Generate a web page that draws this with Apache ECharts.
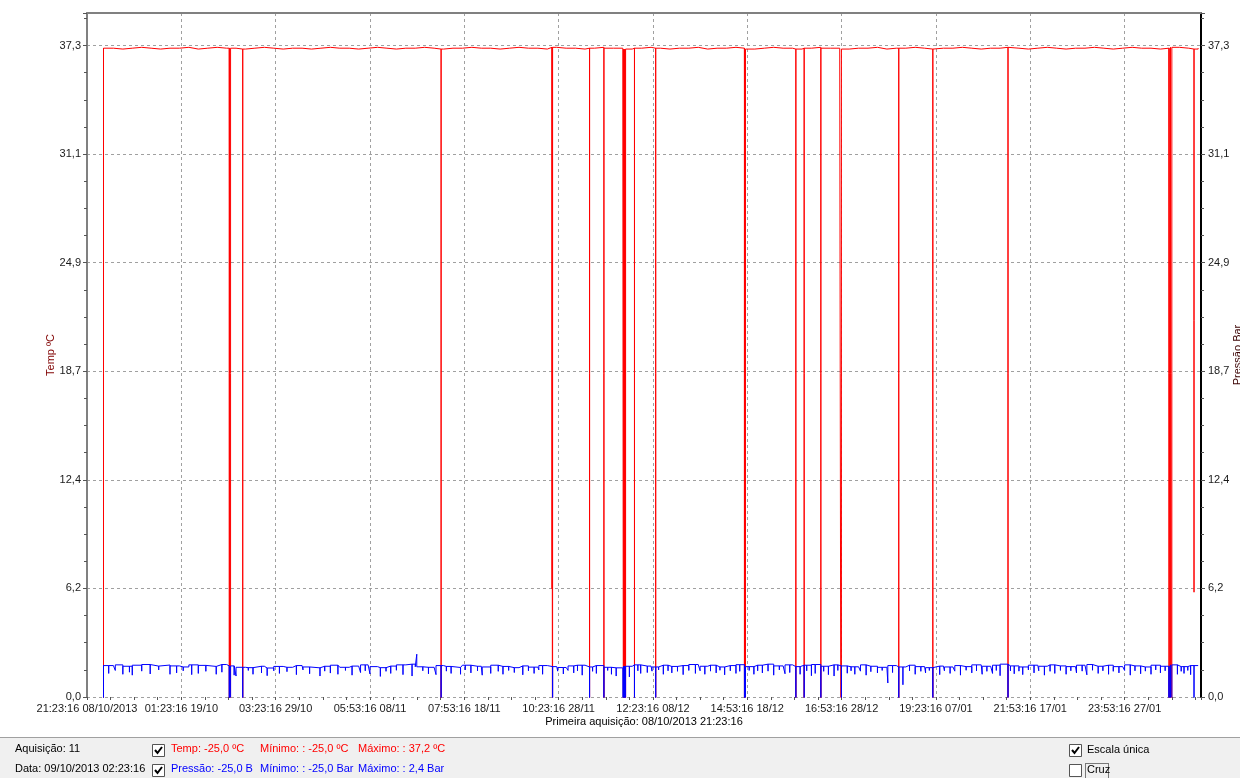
<!DOCTYPE html>
<html><head><meta charset="utf-8">
<script src="https://cdn.jsdelivr.net/npm/echarts@6/dist/echarts.min.js"></script>
<style>html,body{margin:0;padding:0;background:#fff}#c{width:1240px;height:778px}</style>
</head><body><div id="c"></div>
<script>
// ---- data ----
const xTickLabels = ["21:23:16 08/10/2013","01:23:16 19/10","03:23:16 29/10","05:53:16 08/11","07:53:16 18/11","10:23:16 28/11","12:23:16 08/12","14:53:16 18/12","16:53:16 28/12","19:23:16 07/01","21:53:16 17/01","23:53:16 27/01"];
const yTickLabels = ['0,0','6,2','12,4','18,7','24,9','31,1','37,3'];
const sampleStart = 18;   // sample index of first level reading
const sampleStep = 10;    // sample index step between level readings

const tempLevel = [
37.15,37.1,37.15,37.2,37.15,37.1,37.15,37.15,37.2,37.1,
37.15,37.2,37.15,37.15,37.1,37.15,37.2,37.15,37.1,37.15,
37.15,37.1,37.15,37.2,37.15,37.15,37.1,37.15,37.2,37.15,
37.1,37.15,37.15,37.2,37.15,37.1,37.15,37.15,37.2,37.15,
37.15,37.1,37.15,37.2,37.15,37.15,37.1,37.2,37.15,37.15,
37.1,37.15,37.2,37.15,37.15,37.1,37.15,37.2,37.15,37.1,
37.15,37.15,37.2,37.1,37.15,37.15,37.2,37.15,37.1,37.15,
37.2,37.15,37.15,37.1,37.15,37.2,37.15,37.15,37.1,37.15,
37.15,37.2,37.1,37.15,37.15,37.2,37.15,37.1,37.15,37.15,
37.2,37.15,37.1,37.15,37.15,37.2,37.15,37.1,37.15,37.2,
37.15,37.1,37.15,37.15,37.2,37.15,37.1,37.15,37.2,37.15,
37.15,37.1,37.15,37.2,37.15,37.1,37.15];

const pressLevel = [
1.80,1.84,1.76,1.82,1.86,1.77,1.83,1.78,1.72,1.84,
1.81,1.75,1.86,1.78,1.70,1.68,1.76,1.66,1.75,1.70,
1.80,1.72,1.67,1.76,1.82,1.70,1.77,1.84,1.74,1.68,
1.77,1.84,1.88,1.73,1.70,1.80,1.75,1.69,1.82,1.76,
1.72,1.82,1.75,1.68,1.78,1.71,1.80,1.74,1.69,1.78,
1.82,1.72,1.80,1.70,1.67,1.76,1.84,1.77,1.72,1.82,
1.75,1.80,1.86,1.76,1.82,1.72,1.80,1.85,1.74,1.82,
1.88,1.78,1.84,1.74,1.82,1.86,1.76,1.84,1.78,1.73,
1.84,1.76,1.70,1.80,1.72,1.82,1.74,1.68,1.77,1.72,
1.80,1.74,1.84,1.76,1.82,1.88,1.78,1.72,1.82,1.76,
1.84,1.78,1.74,1.82,1.86,1.76,1.82,1.74,1.84,1.78,
1.72,1.82,1.76,1.84,1.74,1.80,1.77];

// momentary readings [sample index, value]
const tempEvents = [
[17.5,-25],[150.9,-25],[152.2,-25],[165.1,-25],[375.4,-25],[493.0,6.2],[493.6,-25],
[532.8,-25],[548.0,-25],[568.9,-25],[569.6,-25],[570.3,-25],[571.0,-25],[580.4,-25],
[602.9,-25],[697.0,-25],[698.1,-25],[751.5,-25],[760.3,-25],[778.0,-25],[799.8,-25],
[860.6,-25],[896.7,-25],[976.4,-25],[1147.1,-25],[1148.6,-25],[1150.1,-25],[1173.6,6.0]];

const pressEvents = [
[17.5,-25],[23,1.35],[38,1.30],[45,1.42],[48,1.25],[67,1.32],[88,1.30],[95,1.38],[111,1.28],[118,1.35],
[137,1.30],[143,1.42],[150.9,-25],[152.2,-25],[156,1.25],[158,1.2],[165.1,-25],[176,1.30],[185,1.38],[191,1.22],
[204,1.35],[212,1.45],[222,1.28],[236,1.33],[247,1.20],[258,1.37],[266,1.30],[281,1.25],[290,1.40],[300,1.32],
[311,1.18],[322,1.35],[335,1.28],[344.6,1.20],[349.6,2.45],[362,1.33],[370,1.28],[375.4,-25],[386,1.35],[396,1.30],
[407,1.38],[419,1.25],[428,1.35],[441,1.30],[453,1.40],[462,1.27],[474,1.35],[483,1.30],[493.6,-25],[505,1.32],
[516,1.38],[525,1.25],[532.8,-25],[540,1.35],[548.0,-25],[556,1.30],[561,1.20],[568.9,-25],[569.6,-25],[570.3,-25],
[571.0,-25],[575,1.15],[580.4,-25],[587,1.35],[594,1.40],[602.9,-25],[611,1.30],[620,1.38],[632,1.28],[645,1.35],
[655,1.30],[667,1.38],[676,1.27],[688,1.35],[697.0,-25],[698.1,-25],[707,1.30],[716,1.38],[728,1.25],[740,1.33],
[745,1.40],[751.5,-25],[756,1.30],[760.3,-25],[768,1.22],[772,1.35],[778.0,-25],[786,1.28],[792,1.20],[799.8,-25],
[806,1.36],[814,1.30],[826,1.25],[838,1.38],[849,0.80],[860.6,-25],[865,0.70],[878,1.30],[889,1.38],[896.7,-25],
[904,1.28],[915,1.35],[926,1.25],[938,1.38],[949,1.30],[960,1.35],[968,1.22],[976.4,-25],[983,1.33],[992,1.28],
[1004,1.38],[1015,1.25],[1026,1.35],[1038,1.30],[1049,1.38],[1060,1.27],[1072,1.35],[1083,1.30],[1094,1.38],[1106,1.25],
[1117,1.33],[1128,1.30],[1138,1.38],[1147.1,-25],[1148.6,-25],[1150.1,-25],[1156,1.30],[1163,1.35],[1170,1.28],[1173.6,-25]];

// shallower flickers of the pressure reading [sample index, value]
const pressMinorEvents = [
[30,1.52],[58,1.48],[76,1.55],[102,1.50],[126,1.47],[171,1.52],[198,1.50],[229,1.55],[252,1.48],[274,1.52],
[295,1.50],[317,1.47],[328,1.53],[356,1.50],[381,1.48],[401,1.55],[414,1.50],[436,1.47],[447,1.52],[468,1.50],
[479,1.55],[499,1.48],[510,1.52],[520,1.50],[536,1.47],[552,1.52],[584,1.50],[599,1.48],[606,1.55],[616,1.50],
[626,1.47],[638,1.52],[650,1.50],[661,1.48],[671,1.53],[682,1.50],[692,1.47],[702,1.52],[711,1.50],[722,1.48],
[734,1.55],[763,1.50],[781,1.47],[796,1.52],[810,1.50],[820,1.48],[831,1.45],[843,1.52],[854,1.40],[872,1.50],
[884,1.47],[893,1.52],[909,1.50],[920,1.48],[932,1.53],[943,1.50],[954,1.47],[964,1.52],[979,1.50],[988,1.48],
[998,1.55],[1009,1.50],[1021,1.47],[1032,1.52],[1043,1.50],[1055,1.48],[1066,1.53],[1077,1.50],[1088,1.47],[1100,1.52],
[1111,1.50],[1122,1.48],[1133,1.55],[1143,1.50],[1160,1.47],[1167,1.52]];

// ---- build ----
function buildSeries(level, events){
  const all = [];
  level.forEach((v,i)=>all.push({x: sampleStart + i*sampleStep, v: v, base: true}));
  events.forEach(e=>all.push({x: e[0], v: e[1], base: false}));
  all.sort((a,b)=> (a.x - b.x) || (a.base ? -1 : 1));
  const out = []; let cur = level[0];
  for (const e of all){
    if (e.base){ out.push([e.x, e.v]); cur = e.v; }
    else { out.push([e.x, cur], [e.x, e.v], [e.x, cur]); }
  }
  return out;
}
const FONT = 'Liberation Sans, Arial, sans-serif';
const yMax = 37.3 * 1.05;
const yInterval = 37.3 / 6;
function yFmt(v){
  const k = Math.round(v / yInterval);
  return (Math.abs(v / yInterval - k) < 0.01 && yTickLabels[k] !== undefined) ? yTickLabels[k] : '';
}
function xFmt(v){
  const k = Math.round(v / 100);
  return (Math.abs(v - k*100) < 0.01 && xTickLabels[k] !== undefined) ? xTickLabels[k] : '';
}
const labelColor = '#1a1a1a';
function yAxisCfg(pos, name, nameColor){
  return {
    type: 'value', position: pos, min: 0, max: yMax, interval: yInterval,
    name: name, nameLocation: 'middle', nameGap: 31, nameRotate: 90, nameMoveOverlap: false,
    nameTextStyle: {color: nameColor, fontFamily: FONT, fontSize: 11},
    axisLine: {show: true, onZero: false, lineStyle: {color: pos === 'left' ? '#808080' : '#000', width: 2}},
    axisTick: {show: true, length: 4, lineStyle: {color: '#555'}},
    minorTick: {show: true, splitNumber: 4, length: 3, lineStyle: {color: '#555'}},
    axisLabel: {formatter: yFmt, color: labelColor, fontFamily: FONT, fontSize: 11, margin: pos === 'left' ? 6 : 7},
    splitLine: {show: pos === 'left', lineStyle: {color: '#a0a0a0', type: [3,3], width: 1}},
    minorSplitLine: {show: false}
  };
}
const chart = echarts.init(document.getElementById('c'), null, {renderer: 'canvas'});
const panelTop = 737;
function txt(x, y, s, color){
  return {type: 'text', x: x, y: y, z: 10, style: {text: s, fill: color, font: '11px ' + FONT, verticalAlign: 'middle'}};
}
function checkbox(x, y, checked){
  const els = [{type: 'rect', z: 10, shape: {x: x + 0.5, y: y + 0.5, width: 12, height: 12}, style: {fill: '#fff', stroke: '#555', lineWidth: 1}}];
  if (checked) els.push({type: 'polyline', z: 11, shape: {points: [[x+3, y+6], [x+5.5, y+9], [x+10, y+3]]}, style: {stroke: '#000', lineWidth: 2, fill: null}});
  return els;
}
chart.setOption({
  animation: false,
  backgroundColor: '#fff',
  grid: {left: 87, right: 39, top: 13, bottom: 81, containLabel: false, outerBoundsMode: 'none'},
  xAxis: [{
    type: 'value', min: 0, max: 1181, interval: 100,
    name: 'Primeira aquisição: 08/10/2013 21:23:16', nameLocation: 'middle', nameGap: 19, nameMoveOverlap: false,
    nameTextStyle: {color: '#000', fontFamily: FONT, fontSize: 11},
    axisLine: {show: false, onZero: false},
    axisTick: {show: true, length: 3, lineStyle: {color: '#555'}},
    minorTick: {show: true, splitNumber: 4, length: 3, lineStyle: {color: '#555'}},
    axisLabel: {formatter: xFmt, color: labelColor, fontFamily: FONT, fontSize: 11, margin: 6, showMaxLabel: false},
    splitLine: {show: true, lineStyle: {color: '#a0a0a0', type: [3,3], width: 1}}
  }, {
    type: 'value', position: 'top', min: 0, max: 1181, interval: 100,
    axisLine: {show: true, onZero: false, lineStyle: {color: '#808080', width: 2}},
    axisTick: {show: false}, axisLabel: {show: false}, splitLine: {show: false}
  }],
  yAxis: [yAxisCfg('left', 'Temp ºC', '#800000'), yAxisCfg('right', 'Pressão Bar', '#3a0000')],
  series: [{
    name: 'Temp', type: 'line', xAxisIndex: 0, yAxisIndex: 0, step: 'end', showSymbol: false, symbol: 'none',
    data: buildSeries(tempLevel, tempEvents), lineStyle: {color: '#ff0000', width: 1}, itemStyle: {color: '#ff0000'}, z: 2
  }, {
    name: 'Pressão', type: 'line', xAxisIndex: 0, yAxisIndex: 1, step: 'end', showSymbol: false, symbol: 'none',
    data: buildSeries(pressLevel, pressEvents.concat(pressMinorEvents)), lineStyle: {color: '#0000ff', width: 1}, itemStyle: {color: '#0000ff'}, z: 3
  }],
  graphic: [].concat(
    [{type: 'rect', z: 9, shape: {x: 0, y: panelTop, width: 1240, height: 778 - panelTop}, style: {fill: '#f0f0f0'}},
     {type: 'line', z: 9, shape: {x1: 0, y1: panelTop + 0.5, x2: 1240, y2: panelTop + 0.5}, style: {stroke: '#a0a0a0', lineWidth: 1}},
     txt(15, 749, 'Aquisição: 11', '#000'),
     txt(15, 769, 'Data: 09/10/2013 02:23:16', '#000'),
     {type: 'rect', z: 10, shape: {x: 147, y: 760, width: 6, height: 18}, style: {fill: '#f0f0f0'}},
     txt(171, 749, 'Temp: -25,0 ºC', '#ff0000'),
     txt(260, 749, 'Mínimo: : -25,0 ºC', '#ff0000'),
     txt(358, 749, 'Máximo: : 37,2 ºC', '#ff0000'),
     txt(171, 769, 'Pressão: -25,0 B', '#0000ff'),
     txt(260, 769, 'Mínimo: : -25,0 Bar', '#0000ff'),
     txt(358, 769, 'Máximo: : 2,4 Bar', '#0000ff'),
     txt(1087, 750, 'Escala única', '#000'),
     txt(1087, 770, 'Cruz', '#000'),
     {type: 'rect', z: 10, shape: {x: 1085.5, y: 763.5, width: 23, height: 15}, style: {fill: null, stroke: '#000', lineWidth: 1, lineDash: [1,1]}}
    ],
    checkbox(152, 744, true), checkbox(152, 764, true),
    checkbox(1069, 744, true), checkbox(1069, 764, false)
  )
});
</script></body></html>
